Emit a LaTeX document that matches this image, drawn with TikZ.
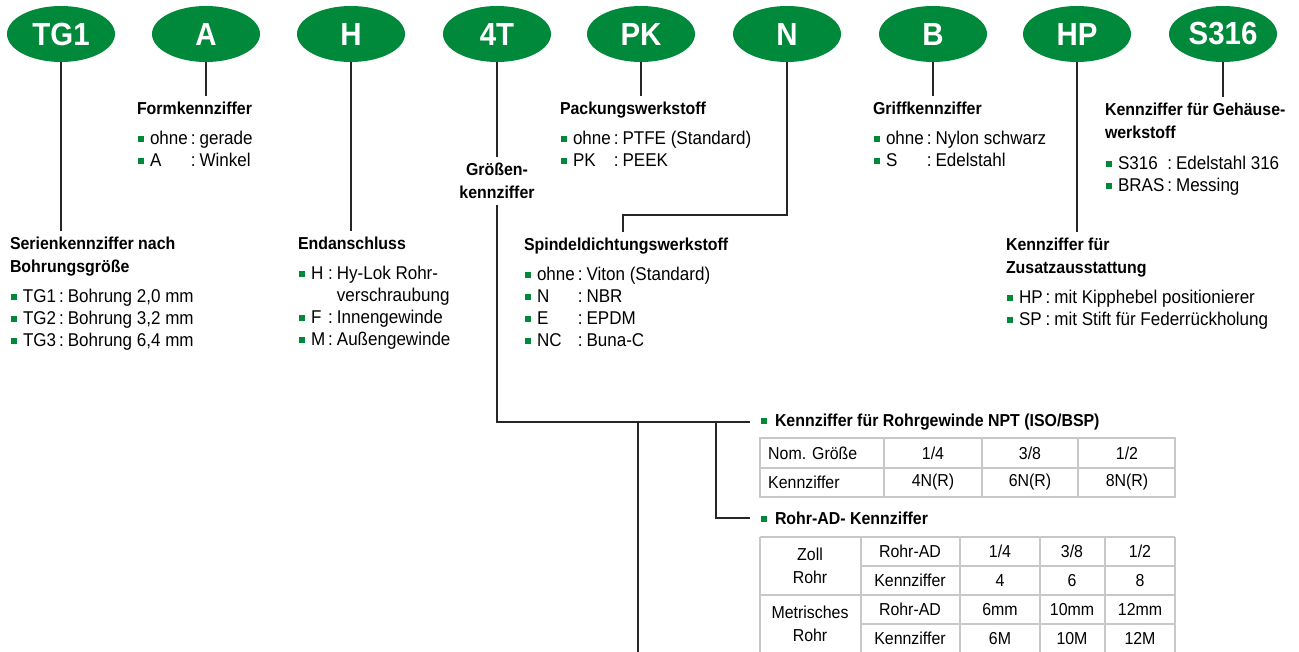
\documentclass[tikz,border=0pt]{standalone}
\usepackage{fontspec}
\setmainfont{Liberation Sans}[FakeStretch=0.92]
\usetikzlibrary{shapes.geometric,positioning}
\definecolor{hygreen}{RGB}{0,137,58}
\definecolor{tblgray}{RGB}{200,200,200}
\newcommand{\bul}{{\color{hygreen}\rule[2.5pt]{6pt}{6pt}}\hspace{6pt}}
\newcommand{\keylist}[1]{\begin{tabular}[t]{@{}l@{\hspace{3pt}}l@{\hspace{4pt}}l@{}}#1\end{tabular}}
\tikzset{code/.style={ellipse, fill=hygreen, text=white, minimum width=108pt,
                      minimum height=56pt, inner sep=0pt,
                      font=\fontsize{32}{32}\selectfont\bfseries}}

\begin{document}
\begin{tikzpicture}[x=1pt,y=-1pt,
    % styles for clarity
    hd/.style   ={inner sep=0pt, outer sep=0pt, outer ysep=6pt, align=left,
                  anchor=north west, font=\fontsize{17.3}{23}\selectfont\bfseries},
    lst/.style  ={inner sep=0pt, outer sep=0pt, anchor=base west,
                  font=\fontsize{18.5}{22}\selectfont},
    conn/.style ={draw=black!85, line width=1.2pt},
    tbl/.style  ={draw=tblgray, line width=1.2pt},
    cell/.style ={inner sep=0pt, align=center, font=\fontsize{17.3}{23}\selectfont}
  ]
    \useasboundingbox (0,0) rectangle (1299,652);

    % code ellipses
    \node[code] (tg) at (61,34) {TG1};
    \node[code] (a) at (206,34) {A};
    \node[code] (h) at (351,34) {H};
    \node[code] (gr) at (497,34) {4T};
    \node[code] (pk) at (641,34) {PK};
    \node[code] (n) at (787,34) {N};
    \node[code] (b) at (933,34) {B};
    \node[code] (hp) at (1077,34) {HP};
    \node[code] (s) at (1223,34) {S316};

    % headings
    \node[hd] (serienhd) at (10,231) {Serienkennziffer nach\\Bohrungsgröße};
    \node[hd] (formhd) at (137,96) {Formkennziffer};
    \node[hd] (endhd) at (298,231) {Endanschluss};
    \node[hd, anchor=north, align=center] (grhd) at (497,157) {Größen-\\kennziffer};
    \node[hd] (packhd) at (560,96) {Packungswerkstoff};
    \node[hd] (spindhd) at (524,232) {Spindeldichtungswerkstoff};
    \node[hd] (griffhd) at (873,96) {Griffkennziffer};
    \node[hd] (zusatzhd) at (1006,232) {Kennziffer für\\Zusatzausstattung};
    \node[hd] (gehhd) at (1105,97) {Kennziffer für Gehäuse-\\werkstoff};

    % lists
    \node[lst] (serienls) at (11,303) {\keylist{\bul TG1 & : & Bohrung 2,0 mm\\
      \bul TG2 & : & Bohrung 3,2 mm\\ \bul TG3 & : & Bohrung 6,4 mm}};
    \node[lst] (formls) at (138,145) {\keylist{\bul ohne & : & gerade\\ \bul A & : & Winkel}};
    \node[lst] (endls) at (299,280) {\keylist{\bul H & : & Hy-Lok Rohr-\\ & & verschraubung\\
      \bul F & : & Innengewinde\\ \bul M & : & Außengewinde}};
    \node[lst] (packls) at (561,145) {\keylist{\bul ohne & : & PTFE (Standard)\\ \bul PK & : & PEEK}};
    \node[lst] (spindls) at (525,281) {\keylist{\bul ohne & : & Viton (Standard)\\
      \bul N & : & NBR\\ \bul E & : & EPDM\\ \bul NC & : & Buna-C}};
    \node[lst] (griffls) at (874,145) {\keylist{\bul ohne & : & Nylon schwarz\\ \bul S & : & Edelstahl}};
    \node[lst] (gehls) at (1106,170) {\keylist{\bul S316 & : & Edelstahl 316\\ \bul BRAS & : & Messing}};
    \node[lst] (zusatzls) at (1007,304) {\keylist{\bul HP & : & mit Kipphebel positionierer\\
      \bul SP & : & mit Stift für Federrückholung}};

    % size code branches
    \node[hd, anchor=west] (npt) at (750,422)
      {\hspace{11pt}{\color{hygreen}\rule[2.5pt]{6pt}{6pt}}\hspace{8pt}Kennziffer für Rohrgewinde NPT (ISO/BSP)};
    \node[hd, anchor=west] (rohrad) at (750,518)
      {\hspace{11pt}{\color{hygreen}\rule[2.5pt]{6pt}{6pt}}\hspace{8pt}Rohr-AD- Kennziffer};
    \coordinate (j2) at (638,422);
    \coordinate (j3) at (716,422);
    \coordinate (bot) at (638,652);
    \coordinate (nk) at (623,215);

    % connectors
    \draw[conn] (tg.south) -- (tg.south |- serienhd.north);
    \draw[conn] (a.south) -- (a.south |- formhd.north);
    \draw[conn] (h.south) -- (h.south |- endhd.north);
    \draw[conn] (gr.south) -- (grhd.north);
    \draw[conn] (pk.south) -- (pk.south |- packhd.north);
    \draw[conn] (n.south) |- (nk) -- (nk |- spindhd.north);
    \draw[conn] (b.south) -- (b.south |- griffhd.north);
    \draw[conn] (hp.south) -- (hp.south |- zusatzhd.north);
    \draw[conn] (s.south) -- (s.south |- gehhd.north);
    \draw[conn] (grhd.south) |- (npt.west);
    \draw[conn] (j2) -- (bot);
    \draw[conn] (j3) |- (rohrad.west);

    % NPT table
    \draw[tbl] (760,438) rectangle (1175,497);
    \draw[tbl] (760,468) -- (1175,468);
    \foreach \x in {884,982,1078} \draw[tbl] (\x,438) -- (\x,497);
    \node[cell, anchor=west] (nomg) at (768,453) {Nom. Größe};
    \node[cell, anchor=west] (nomk) at (768,482) {Kennziffer};
    \foreach \x/\g/\k [count=\i] in {933/{1/4}/4N(R), 1030/{3/8}/6N(R), 1127/{1/2}/8N(R)} {
      \node[cell] (nptg\i) at (\x,453) {\g};
      \node[cell] (nptk\i) at (\x,482) {\k};
    }

    % Rohr-AD table
    \draw[tbl] (760,537) -- (1175,537);
    \draw[tbl] (861,566) -- (1175,566);
    \draw[tbl] (760,595) -- (1175,595);
    \draw[tbl] (861,624) -- (1175,624);
    \foreach \x in {760,861,960,1040,1105,1175} \draw[tbl] (\x,537) -- (\x,652);
    \node[cell] (zoll) at (810,566) {Zoll\\Rohr};
    \node[cell] (metr) at (810,624) {Metrisches\\Rohr};
    \foreach \y/\t in {551.5/Rohr-AD, 580.5/Kennziffer, 609.5/Rohr-AD, 638.5/Kennziffer}
      \node[cell] (lab\y) at (910,\y) {\t};
    \foreach \x/\p/\q/\r/\u [count=\i] in {1000/{1/4}/4/6mm/6M, 1072/{3/8}/6/10mm/10M, 1140/{1/2}/8/12mm/12M} {
      \node[cell] (ad1\i) at (\x,551.5) {\p};
      \node[cell] (ad2\i) at (\x,580.5) {\q};
      \node[cell] (ad3\i) at (\x,609.5) {\r};
      \node[cell] (ad4\i) at (\x,638.5) {\u};
    }
\end{tikzpicture}
\end{document}
